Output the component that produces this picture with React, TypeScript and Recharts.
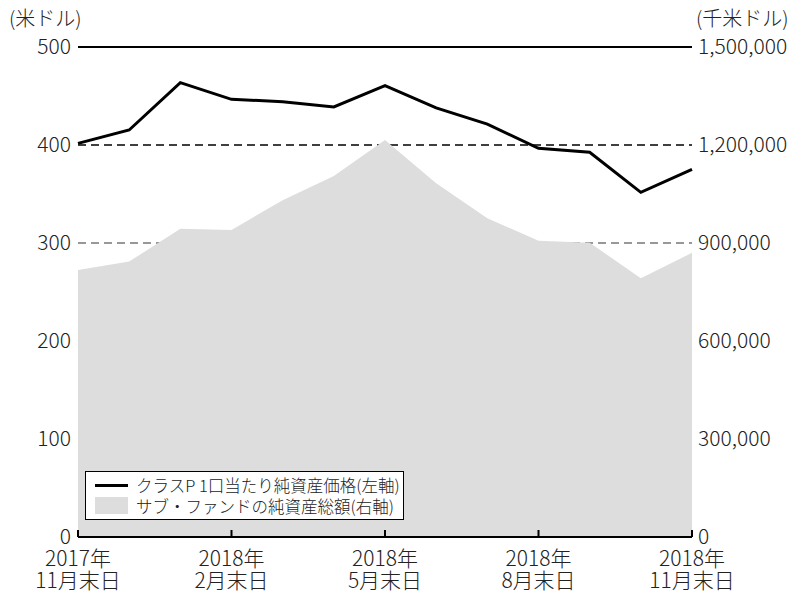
import {
  ComposedChart,
  Area,
  Line,
  XAxis,
  YAxis,
  CartesianGrid,
  Legend,
} from 'recharts';

// 2017年11月末日 〜 2018年11月末日（月末）
const years = ['2017', '2017', '2018', '2018', '2018', '2018', '2018', '2018', '2018', '2018', '2018', '2018', '2018'];
const months = [11, 12, 1, 2, 3, 4, 5, 6, 7, 8, 9, 10, 11];

// クラスP 1口当たり純資産価格（米ドル、左軸）
const navPerUnit = [401.7, 415.3, 463.6, 446.6, 444.2, 438.8, 460.5, 437.8, 421.4, 396.6, 392.6, 351.7, 375.2];
// サブ・ファンドの純資産総額（千米ドル、右軸）
const netAssets = [817000, 843000, 944000, 940000, 1031000, 1105000, 1215000, 1083000, 976000, 907000, 901000, 792000, 870000];

const leftTicks = [0, 100, 200, 300, 400, 500];
const rightTicks = [0, 300000, 600000, 900000, 1200000, 1500000];

const lineName = 'クラスP 1口当たり純資産価格(左軸)';
const areaName = 'サブ・ファンドの純資産総額(右軸)';

const FONT = '"Noto Sans CJK JP", "Noto Sans", sans-serif';
const TEXT = '#222';
const WEIGHT = 300;
const AXIS_FS = 21;

const data = years.map((y, i) => ({
  label: `${y}年|${months[i]}月末日`,
  nav: navPerUnit[i],
  assets: netAssets[i],
}));

function XTick(props: any) {
  const { x, y, payload } = props;
  const [top, bottom] = String(payload.value).split('|');
  return (
    <g>
      <line x1={x} x2={x} y1={y - 7} y2={y} stroke="#000" strokeWidth={2} />
      <text x={x} y={y} textAnchor="middle" fontSize={AXIS_FS} fill={TEXT} fontFamily={FONT} fontWeight={WEIGHT}>
        <tspan x={x} dy={29}>{top}</tspan>
        <tspan x={x} dy={22}>{bottom}</tspan>
      </text>
    </g>
  );
}

// grid lines: 500 solid, 400 dashed black, 300 dashed grey (lower ones sit under the area)
function gridLine(props: any) {
  const { x1, x2, y1, y2, index } = props;
  const v = leftTicks[index];
  if (v === 0) return <g key={`g-${index}`} />;
  let stroke = '#777';
  let dash: string | undefined = '8 5';
  let w = 1.5;
  if (v === 500) {
    stroke = '#000';
    dash = undefined;
    w = 2;
  } else if (v === 400) {
    stroke = '#000';
  }
  return (
    <line
      key={`g-${index}`}
      x1={x1}
      x2={x2}
      y1={y1}
      y2={y2}
      stroke={stroke}
      strokeWidth={w}
      strokeDasharray={dash}
    />
  );
}

function LegendBox() {
  return (
    <div
      style={{
        width: 319,
        height: 49,
        boxSizing: 'border-box',
        border: '1.5px solid #000',
        background: '#fff',
        fontFamily: FONT,
        fontWeight: WEIGHT,
        fontSize: 16.5,
        color: TEXT,
        padding: '3px 0 0 9px',
        lineHeight: '20px',
      }}
    >
      <div style={{ display: 'flex', alignItems: 'center', height: 20 }}>
        <span style={{ display: 'inline-block', width: 33, height: 3, background: '#000', marginRight: 8 }} />
        <span>{lineName}</span>
      </div>
      <div style={{ display: 'flex', alignItems: 'center', height: 21 }}>
        <span style={{ display: 'inline-block', width: 33, height: 17, background: '#dddddd', marginRight: 8 }} />
        <span>{areaName}</span>
      </div>
    </div>
  );
}

export default function App() {
  return (
    <div style={{ position: 'absolute', left: 0, top: 0, width: 795, height: 592, background: '#fff' }}>
      <div style={{ position: 'absolute', left: 9, top: 5, fontFamily: FONT, fontWeight: WEIGHT, fontSize: 20, lineHeight: '26px', color: TEXT }}>
        (米ドル)
      </div>
      <div style={{ position: 'absolute', left: 696, top: 5, fontFamily: FONT, fontWeight: WEIGHT, fontSize: 20, lineHeight: '26px', color: TEXT }}>
        (千米ドル)
      </div>
      <ComposedChart
        width={795}
        height={592}
        data={data}
        margin={{ top: 47, right: 0, bottom: 0, left: 0 }}
      >
        <CartesianGrid yAxisId="left" vertical={false} horizontal={gridLine} />
        <XAxis
          dataKey="label"
          interval={2}
          height={55}
          tickSize={0}
          tickMargin={0}
          tickLine={false}
          axisLine={{ stroke: '#000', strokeWidth: 2 }}
          tick={<XTick />}
        />
        <YAxis
          yAxisId="left"
          domain={[0, 500]}
          ticks={leftTicks}
          width={78}
          axisLine={false}
          tickLine={false}
          tickSize={0}
          tickMargin={7}
          tick={{ fontSize: AXIS_FS, fill: TEXT, fontFamily: FONT, fontWeight: WEIGHT }}
        />
        <YAxis
          yAxisId="right"
          orientation="right"
          domain={[0, 1500000]}
          ticks={rightTicks}
          width={103}
          axisLine={false}
          tickLine={false}
          tickSize={0}
          tickMargin={6}
          tick={{ fontSize: AXIS_FS, fill: TEXT, fontFamily: FONT, fontWeight: WEIGHT, textAnchor: 'start' }}
          tickFormatter={(v: number) => v.toLocaleString('en-US')}
        />
        <Area
          yAxisId="right"
          type="linear"
          dataKey="assets"
          name={areaName}
          fill="#dddddd"
          fillOpacity={1}
          stroke="none"
          isAnimationActive={false}
        />
        <Line
          yAxisId="left"
          type="linear"
          dataKey="nav"
          name={lineName}
          stroke="#000"
          strokeWidth={3}
          dot={false}
          activeDot={false}
          isAnimationActive={false}
        />
        <Legend
          layout="horizontal"
          verticalAlign="middle"
          align="center"
          content={<LegendBox />}
          wrapperStyle={{ left: 85, top: 471, width: 'auto' }}
        />
      </ComposedChart>
    </div>
  );
}
